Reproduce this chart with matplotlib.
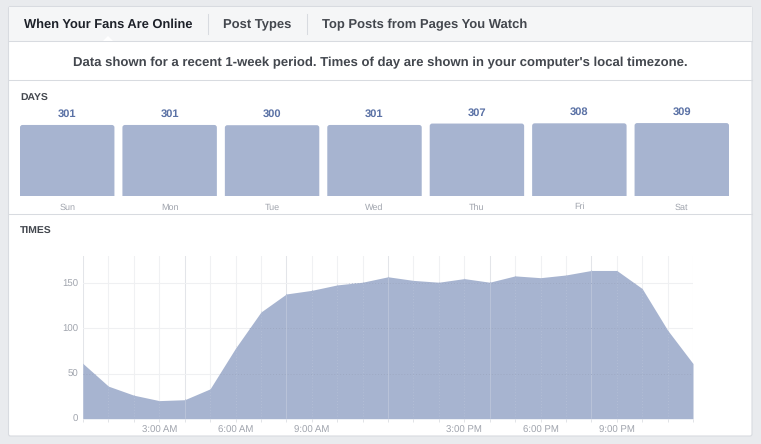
#!/usr/bin/env python3
"""Fans online page: days bars and times area chart"""

import matplotlib
matplotlib.use('Agg')
import matplotlib.pyplot as plt
from matplotlib.patches import FancyBboxPatch, Polygon, Rectangle

plt.rcParams['font.family'] = ['Liberation Sans', 'DejaVu Sans']
plt.rcParams['text.hinting'] = 'none'

# Data
days = ['Sun', 'Mon', 'Tue', 'Wed', 'Thu', 'Fri', 'Sat']
day_values = [301, 301, 300, 301, 307, 308, 309]
hours = list(range(25))
hour_values = [61, 36, 26, 20, 21, 33, 78, 118, 138, 142, 148, 151, 157,
               153, 151, 155, 151, 158, 156, 159, 164, 164, 144, 98, 61]
y_ticks = [0, 50, 100, 150]
x_tick_pos = [3, 6, 9, 15, 18, 21]
x_tick_labels = ['3:00 AM', '6:00 AM', '9:00 AM', '3:00 PM', '6:00 PM', '9:00 PM']

W, H = 761, 444
FILL = '#a7b4d0'
BORDER = '#d8dbe0'
GREY = '#a0a4ad'
DARK = '#43474e'


def px_axes(fig, left, top, right, bottom):
    """Axes placed by pixel edges, y counted from the top of the image"""
    return fig.add_axes([left / W, 1 - bottom / H, (right - left) / W, (bottom - top) / H])


fig = plt.figure(figsize=(W / 100, H / 100), dpi=100, facecolor='#e9ebee')

# page chrome, in pixel coordinates
bg = fig.add_axes([0, 0, 1, 1])
bg.set_xlim(0, W)
bg.set_ylim(H, 0)
bg.axis('off')
bg.add_patch(FancyBboxPatch((8.5, 6.5), 743.5, 429.5, boxstyle='round,pad=0,rounding_size=2',
                            fc='white', ec=BORDER, lw=0.8))
bg.add_patch(Rectangle((9, 7), 742.5, 34, fc='#f5f6f7', ec='none'))
bg.plot([9, 752], [41.5, 41.5], color=BORDER, lw=0.75)
bg.add_patch(Polygon([[102, 42], [108, 36], [114, 42]], fc='white', ec='none'))
for x in (207.5, 307):
    bg.plot([x, x], [14, 34], color=BORDER, lw=0.75)
for y in (80.5, 213.5):
    bg.plot([9, 752], [y, y], color=BORDER, lw=0.75)

bg.text(24, 25, 'When Your Fans Are Online', fontsize=9.3, fontweight='bold',
        color='#1d2129', va='center')
bg.text(223, 25, 'Post Types', fontsize=9.4, fontweight='bold', color=DARK, va='center')
bg.text(322, 25, 'Top Posts from Pages You Watch', fontsize=9.4, fontweight='bold',
        color=DARK, va='center')
bg.text(380.5, 63, "Data shown for a recent 1-week period. Times of day are shown in your computer's local timezone.",
        fontsize=9.45, fontweight='bold', color=DARK, ha='center', va='center')
bg.text(20, 98.5, 'DAYS', fontsize=7.5, fontweight='bold', color=DARK, va='center')
bg.text(20, 231.5, 'TIMES', fontsize=7.5, fontweight='bold', color=DARK, va='center')

# Days bars
ax_days = px_axes(fig, 20, 100, 729, 196)
ax_days.patch.set_alpha(0)
ax_days.axis('off')
ax_days.set_xlim(-0.461, 6.461)
ax_days.set_ylim(0, 96 / 0.236)
bar_w = 0.922
for i, v in enumerate(day_values):
    # runs below the baseline so only the top corners are rounded
    ax_days.add_patch(FancyBboxPatch((i - bar_w / 2, -30), bar_w, v + 30,
                                     boxstyle='round,pad=0,rounding_size=0.025',
                                     mutation_aspect=420, fc=FILL, ec='none'))
    ax_days.annotate(str(v), (i, v), xytext=(0, 7.8), textcoords='offset points',
                     ha='center', va='center', fontsize=8, fontweight='bold',
                     color='#5a71a5', annotation_clip=False)
    ax_days.annotate(days[i], (i, 0), xytext=(0, -8), textcoords='offset points',
                     ha='center', va='center', fontsize=6.5, color=GREY,
                     annotation_clip=False)

# Times area
ax = px_axes(fig, 83, 256, 693, 418.7)
ax.patch.set_alpha(0)
ax.set_xlim(0, 24)
ax.set_ylim(0, 180)
for s in ax.spines.values():
    s.set_visible(False)
area = ax.fill_between(hours, hour_values, 0, color=FILL, lw=0, zorder=2)
clip = area.get_paths()[0]

# light grid on the white part, fainter dots where it shows through the fill
for h in hours:
    strong = h % 4 == 0
    ax.axvline(h, color='#e3e5e9' if strong else '#f0f1f3', lw=0.75, zorder=1)
    dots = ax.axvline(h, color='#b9c3d9' if strong else '#b3bed6', lw=0.7,
                      ls='-' if strong else (0, (1, 2)), zorder=3)
    dots.set_clip_path(clip, ax.transData)
for t in y_ticks[1:]:
    ax.axhline(t, color='#eff0f2', lw=0.75, zorder=1)
    dots = ax.axhline(t, color='#9ea9c3', lw=0.7, ls=(0, (1, 2)), zorder=3)
    dots.set_clip_path(clip, ax.transData)

ax.set_yticks(y_ticks)
ax.set_xticks(hours)
ax.set_xticklabels([x_tick_labels[x_tick_pos.index(h)] if h in x_tick_pos else '' for h in hours])
ax.tick_params(axis='y', length=0, pad=3.5, labelsize=6.9, labelcolor=GREY)
ax.tick_params(axis='x', length=2.5, width=0.6, color='#dddfe3', pad=2.5, labelsize=6.9, labelcolor=GREY)

fig.savefig('out.png', dpi=100, facecolor=fig.get_facecolor())
